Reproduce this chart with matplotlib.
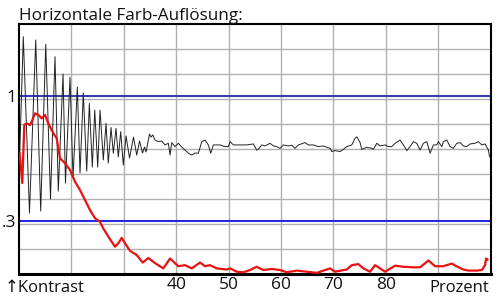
import numpy as np
import matplotlib
matplotlib.use("Agg")
import matplotlib.pyplot as plt
from matplotlib.ticker import NullFormatter

plt.rcParams['font.family'] = ['Open Sans', 'DejaVu Sans']

title = "Horizontale Farb-Auflösung:"
x_ticks = [40, 50, 60, 70, 80]
x_tick_labels = ["40", "50", "60", "70", "80"]
ref_levels = [1.0, 0.3]
ref_labels = ["1", ".3"]
x_range = [10, 100]
y_range = [0.18, 2.0]

black_x = [10.10, 10.82, 12.00, 13.19, 14.14, 15.10, 16.01, 16.87, 17.50, 18.40,
           18.87, 19.73, 20.31, 21.13, 21.64, 22.27, 22.92, 23.42, 23.99, 24.45,
           25.02, 25.46, 26.09, 26.60, 27.04, 27.56, 28.00, 28.51, 28.95, 29.41,
           29.90, 30.42, 31.09, 31.85, 32.46, 33.00, 33.57, 33.95, 34.24, 34.90,
           35.19, 35.52, 35.95, 36.58, 37.23, 37.86, 38.49, 38.82, 39.14, 39.77,
           40.40, 41.05, 41.68, 42.31, 42.96, 43.59, 44.22, 44.87, 45.50, 46.13,
           46.58, 47.08, 48.36, 49.31, 49.94, 50.27, 50.90, 52.18, 53.45, 54.71,
           55.36, 55.67, 56.32, 56.95, 57.90, 58.53, 59.18, 59.81, 60.44, 61.39,
           62.04, 62.67, 63.30, 64.58, 65.21, 66.16, 67.12, 68.07, 68.72, 69.35,
           69.68, 70.31, 71.26, 71.89, 72.54, 73.49, 74.12, 74.45, 75.08, 75.40,
           76.36, 77.31, 77.61, 78.26, 78.89, 79.85, 80.48, 81.13, 81.76, 82.71,
           83.34, 83.99, 84.62, 85.25, 85.90, 86.53, 87.16, 87.81, 88.44, 89.06,
           89.71, 90.02, 90.67, 90.97, 91.62, 92.25, 92.88, 93.53, 94.16, 94.79,
           95.44, 96.07, 97.02, 97.65, 98.30, 98.93, 99.56, 99.79]
black_y = [0.540, 1.770, 0.324, 1.715, 0.330, 1.644, 0.371, 1.459, 0.400, 1.236,
           0.432, 1.195, 0.454, 1.090, 0.476, 1.029, 0.485, 0.930, 0.504, 0.873,
           0.504, 0.873, 0.540, 0.768, 0.524, 0.738, 0.576, 0.732, 0.556, 0.709,
           0.514, 0.680, 0.550, 0.673, 0.566, 0.648, 0.577, 0.612, 0.583, 0.693,
           0.673, 0.687, 0.654, 0.644, 0.648, 0.624, 0.634, 0.566, 0.638, 0.614,
           0.634, 0.612, 0.594, 0.576, 0.566, 0.577, 0.576, 0.644, 0.654, 0.624,
           0.576, 0.624, 0.624, 0.614, 0.614, 0.644, 0.624, 0.624, 0.624, 0.630,
           0.594, 0.598, 0.624, 0.618, 0.634, 0.618, 0.614, 0.604, 0.624, 0.618,
           0.622, 0.604, 0.624, 0.638, 0.624, 0.624, 0.614, 0.618, 0.610, 0.604,
           0.585, 0.591, 0.585, 0.598, 0.614, 0.624, 0.665, 0.675, 0.638, 0.598,
           0.610, 0.604, 0.598, 0.634, 0.618, 0.624, 0.614, 0.614, 0.634, 0.654,
           0.624, 0.591, 0.614, 0.644, 0.634, 0.594, 0.634, 0.644, 0.576, 0.624,
           0.624, 0.644, 0.614, 0.644, 0.654, 0.614, 0.604, 0.634, 0.638, 0.618,
           0.614, 0.630, 0.634, 0.644, 0.624, 0.630, 0.594, 0.557]

red_x = [10.10, 10.63, 11.01, 11.47, 12.10, 12.42, 13.05, 13.68, 14.33, 14.96,
         15.59, 16.55, 17.19, 17.82, 18.78, 19.73, 20.69, 21.64, 22.60, 23.55,
         24.50, 25.46, 26.09, 27.04, 28.32, 28.95, 29.60, 30.23, 31.18, 32.46,
         33.61, 34.68, 35.95, 37.54, 38.82, 40.40, 41.68, 42.96, 44.54, 45.50,
         46.45, 47.73, 49.64, 50.27, 51.55, 52.81, 54.08, 55.36, 56.62, 58.22,
         59.81, 61.09, 62.99, 64.90, 66.81, 69.35, 70.31, 72.54, 73.49, 74.75,
         75.71, 76.98, 77.94, 79.85, 81.76, 83.34, 85.25, 86.53, 88.11, 89.39,
         90.97, 92.58, 93.84, 94.79, 95.74, 97.35, 98.30, 98.93, 99.12, 99.37]
red_y = [0.577, 0.432, 0.756, 0.768, 0.756, 0.780, 0.846, 0.833, 0.806, 0.833,
         0.768, 0.698, 0.665, 0.549, 0.523, 0.490, 0.438, 0.404, 0.367, 0.333,
         0.308, 0.297, 0.279, 0.258, 0.234, 0.242, 0.255, 0.242, 0.225, 0.216,
         0.201, 0.210, 0.200, 0.190, 0.209, 0.194, 0.196, 0.190, 0.201, 0.194,
         0.196, 0.190, 0.188, 0.190, 0.184, 0.183, 0.187, 0.193, 0.187, 0.189,
         0.187, 0.183, 0.186, 0.184, 0.182, 0.190, 0.184, 0.188, 0.196, 0.198,
         0.190, 0.184, 0.196, 0.184, 0.195, 0.193, 0.192, 0.192, 0.205, 0.194,
         0.194, 0.199, 0.192, 0.188, 0.186, 0.186, 0.187, 0.196, 0.209, 0.207]

fig = plt.figure(figsize=(5.0, 3.03), dpi=100)
ax = fig.add_axes([19/500, 29/303, 471.7/500, 250/303])
ax.set_yscale('log')
ax.set_xlim(*x_range)
ax.set_ylim(*y_range)

# grid
ax.set_xticks(x_ticks)
ax.set_xticklabels(x_tick_labels)
ax.set_xticks(np.arange(20, 100, 10), minor=True)
ax.set_yticks(ref_levels)
ax.set_yticklabels(ref_labels)
ax.set_yticks(np.logspace(np.log10(y_range[0]), np.log10(y_range[1]), 11)[1:-1], minor=True)
ax.yaxis.set_minor_formatter(NullFormatter())
ax.xaxis.set_minor_formatter(NullFormatter())
ax.grid(axis='x', which='both', color='#b0b0b0', linewidth=1.0)
ax.grid(axis='y', which='minor', color='#b0b0b0', linewidth=1.0)
ax.tick_params(which='both', length=0, labelsize=12.5, colors='#111111')
ax.tick_params(axis='x', pad=2)
ax.tick_params(axis='y', pad=2)

ref_colors = ['#3b3bb5', '#2828e0']
for lvl, c in zip(ref_levels, ref_colors):
    ax.axhline(lvl, color=c, linewidth=1.5, zorder=2)

ax.plot(black_x, black_y, color='#222222', linewidth=0.7, zorder=3)
ax.plot(red_x, red_y, color='#e81212', linewidth=1.6, zorder=4)

for s in ax.spines.values():
    s.set_linewidth(1.5)
    s.set_color('black')
ax.spines['bottom'].set_linewidth(2.2)

fig.text(19/500, 1 - 19.5/303, title, fontsize=12.3, ha='left', va='baseline', color='#111111')
fig.text(5/500, 1 - 291.5/303, "↑Kontrast", fontsize=12, ha='left', va='baseline', color='#111111')
fig.text(489/500, 1 - 291.5/303, "Prozent", fontsize=12, ha='right', va='baseline', color='#111111')

fig.savefig('out.png', dpi=100)
